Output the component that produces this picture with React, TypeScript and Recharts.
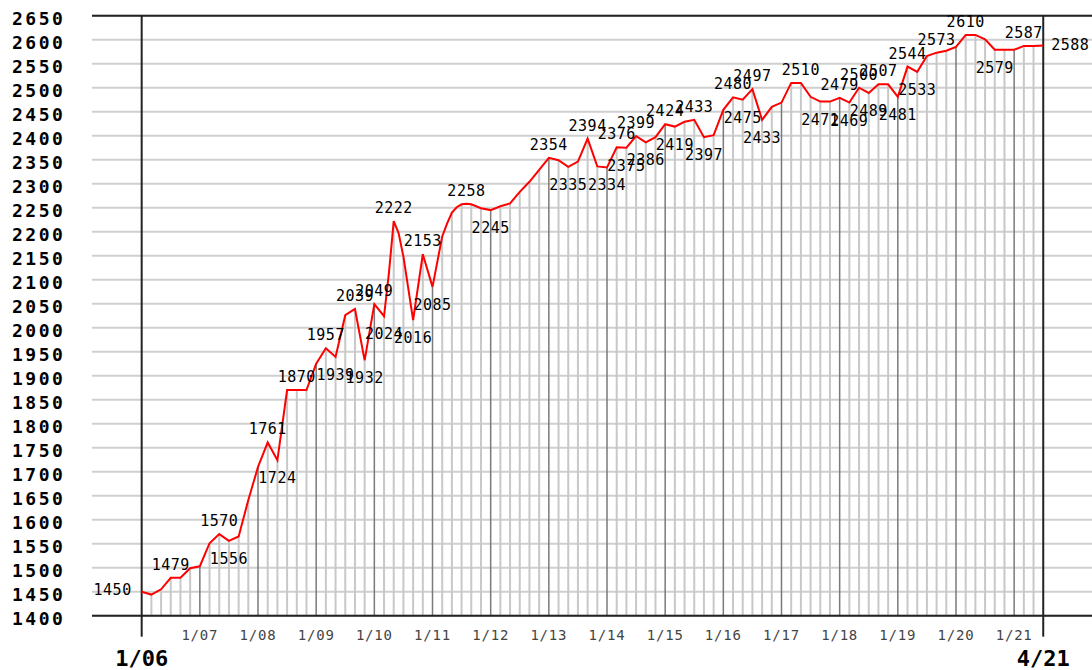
import React from 'react';
import { LineChart, Line, XAxis, YAxis, CartesianGrid, ReferenceLine, LabelList } from 'recharts';

// months since 1/06 and rating at that point
const months = [
  0, 2, 4, 6, 8, 10, 12, 14, 16, 18, 20, 22, 24, 26, 28, 30, 32, 34, 36, 38,
  40, 42, 44, 46, 48, 50, 51, 52, 53, 54, 56, 58, 60, 62, 63, 64, 65, 66, 67, 68,
  70, 72, 74, 76, 78, 80, 82, 84, 86, 88, 90, 92, 94, 96, 98, 100, 102, 104, 106, 108,
  110, 112, 114, 116, 118, 120, 122, 124, 126, 128, 130, 132, 134, 136, 138, 140, 142, 144, 146, 148,
  150, 152, 154, 156, 158, 160, 162, 164, 166, 168, 170, 172, 174, 176, 178, 180, 182, 184, 186,
];
const ratings = [
  1450, 1444, 1455, 1479, 1479, 1499, 1503, 1551, 1570, 1556, 1565, 1641, 1710, 1761, 1724, 1870, 1870, 1870, 1925, 1957,
  1939, 2026, 2039, 1932, 2049, 2024, 2113, 2222, 2197, 2148, 2016, 2153, 2085, 2190, 2217, 2240, 2251, 2257, 2258, 2257,
  2249, 2245, 2253, 2259, 2283, 2304, 2329, 2354, 2349, 2335, 2346, 2394, 2336, 2334, 2376, 2375, 2399, 2386, 2397, 2424,
  2419, 2429, 2433, 2397, 2401, 2454, 2480, 2475, 2497, 2433, 2460, 2469, 2510, 2510, 2481, 2471, 2471, 2479, 2469, 2500,
  2489, 2507, 2507, 2481, 2544, 2533, 2566, 2573, 2577, 2585, 2610, 2610, 2601, 2579, 2579, 2579, 2587, 2587, 2588,
];

const labelAbove = [6, 16, 26, 32, 38, 44, 48, 52, 58, 67, 84, 92, 98, 102, 108, 114, 122, 126, 136, 144, 148, 152, 158, 164, 170, 182];
const labelBelow = [18, 28, 40, 46, 50, 56, 60, 72, 88, 96, 100, 104, 110, 116, 124, 128, 140, 146, 150, 156, 160, 176];
const labelLeft = [0];
const labelRight = [186];

const yTicks = [
  1400, 1450, 1500, 1550, 1600, 1650, 1700, 1750, 1800, 1850, 1900, 1950, 2000,
  2050, 2100, 2150, 2200, 2250, 2300, 2350, 2400, 2450, 2500, 2550, 2600, 2650,
];
const xTickMonths = [0, 12, 24, 36, 48, 60, 72, 84, 96, 108, 120, 132, 144, 156, 168, 180, 186];
const xTickLabels = ['1/06', '1/07', '1/08', '1/09', '1/10', '1/11', '1/12', '1/13', '1/14', '1/15', '1/16', '1/17', '1/18', '1/19', '1/20', '1/21', '4/21'];

const data = months.map((m, i) => ({ m, rating: ratings[i] }));
const yMin = yTicks[0];
const yMax = yTicks[yTicks.length - 1];
const firstM = months[0];
const lastM = months[months.length - 1];

const YTick = (props: any) => {
  const { y, payload } = props;
  return (
    <text x={12} y={y + 9} textAnchor="start" fontFamily="DejaVu Sans Mono" fontWeight="bold" fontSize={18} letterSpacing={2.5} fill="#000">
      {payload.value}
    </text>
  );
};

const XTick = (props: any) => {
  const { x, y, payload } = props;
  const idx = xTickMonths.indexOf(payload.value);
  const label = xTickLabels[idx];
  const isEnd = payload.value === firstM || payload.value === lastM;
  if (isEnd) {
    return (
      <g>
        <line x1={x} x2={x} y1={y} y2={y + 21} stroke="#222" strokeWidth={2} />
        <text x={x} y={y + 50} textAnchor="middle" fontFamily="DejaVu Sans Mono" fontWeight="bold" fontSize={22} fill="#000">
          {label}
        </text>
      </g>
    );
  }
  return (
    <text x={x} y={y + 24} textAnchor="middle" fontFamily="DejaVu Sans Mono" fontSize={14} letterSpacing={0.8} fill="#444">
      {label}
    </text>
  );
};

const PointLabel = (props: any) => {
  const { x, y, value, index } = props;
  const m = months[index];
  const common = { fontFamily: 'DejaVu Sans Mono', fontSize: 15, letterSpacing: 0.5, fill: '#000' } as any;
  if (labelAbove.includes(m)) {
    return <text x={x} y={y - 8} textAnchor="middle" {...common}>{value}</text>;
  }
  if (labelBelow.includes(m)) {
    return <text x={x} y={y + 23} textAnchor="middle" {...common}>{value}</text>;
  }
  if (labelLeft.includes(m)) {
    return <text x={x - 10} y={y + 3} textAnchor="end" {...common}>{value}</text>;
  }
  if (labelRight.includes(m)) {
    return <text x={x + 8} y={y + 5} textAnchor="start" {...common}>{value}</text>;
  }
  return null;
};

export default function App() {
  const guideRows = data.filter((d) => d.m % 2 === 0 && d.m !== firstM && d.m !== lastM);
  return (
    <div style={{ position: 'absolute', left: 0, top: 0, background: '#fff' }}>
      <LineChart width={1092} height={670} data={data} margin={{ top: 15.7, right: 0, bottom: 24.3, left: 0 }}>
        <CartesianGrid horizontal vertical={false} stroke="#cfcfcf" strokeWidth={2} />
        <XAxis
          dataKey="m"
          type="number"
          domain={[-10.25, 196.06]}
          allowDataOverflow
          ticks={xTickMonths}
          interval={0}
          tick={<XTick />}
          tickLine={false}
          tickSize={0}
          tickMargin={0}
          height={30}
          axisLine={{ stroke: '#222', strokeWidth: 2 }}
        />
        <YAxis
          type="number"
          domain={[yMin, yMax]}
          ticks={yTicks}
          interval={0}
          width={92}
          tick={<YTick />}
          tickLine={false}
          axisLine={false}
          allowDataOverflow
        />
        {guideRows.map((d) => (
          <ReferenceLine
            key={'g' + d.m}
            segment={[{ x: d.m, y: yMin }, { x: d.m, y: d.rating }]}
            stroke={d.m % 12 === 0 ? '#7a7a7a' : '#c8c8c8'}
            strokeWidth={d.m % 12 === 0 ? 1.5 : 2}
          />
        ))}
        <ReferenceLine y={yMax} stroke="#222" strokeWidth={2} />
        <ReferenceLine x={firstM} stroke="#222" strokeWidth={2} />
        <ReferenceLine x={lastM} stroke="#222" strokeWidth={2} />
        <Line
          type="linear"
          dataKey="rating"
          stroke="#ff0000"
          strokeWidth={2}
          dot={false}
          isAnimationActive={false}
        >
          <LabelList dataKey="rating" content={<PointLabel />} />
        </Line>
      </LineChart>
    </div>
  );
}
